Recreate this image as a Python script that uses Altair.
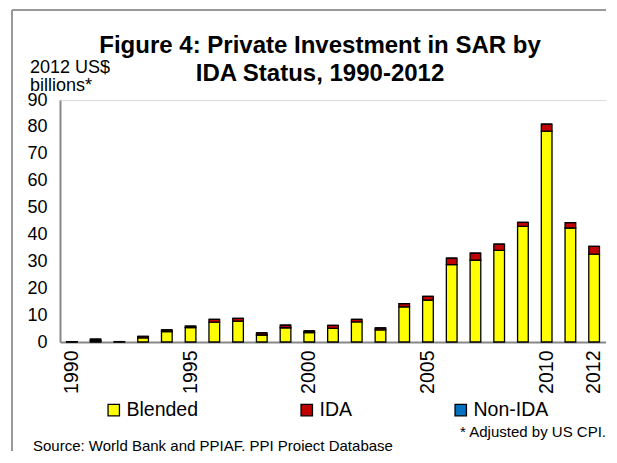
import altair as alt
import pandas as pd

years = list(range(1990, 2013))
blended = [0.15, 0.5, 0.15, 1.5, 3.9, 5.4, 7.4, 7.8, 2.6, 5.3, 3.5, 5.1, 7.5, 4.5,
           13.1, 15.6, 28.8, 30.4, 34.1, 43.0, 78.4, 42.4, 32.7]
ida = [0.0, 0.6, 0.0, 0.6, 0.6, 0.5, 1.0, 1.0, 0.8, 1.0, 0.6, 1.1, 0.9, 0.7,
       1.2, 1.4, 2.4, 2.6, 2.3, 1.5, 2.6, 2.0, 2.9]
non_ida = [0.0] * 23
series = ["Blended", "IDA", "Non-IDA"]
colors = ["#FFFF00", "#C00000", "#0070C0"]
shown_years = [1990, 1995, 2000, 2005, 2010, 2012]
y_ticks = [0, 10, 20, 30, 40, 50, 60, 70, 80, 90]

rows = []
for i, yr in enumerate(years):
    for k, (name, vals) in enumerate(zip(series, [blended, ida, non_ida])):
        rows.append({"year": str(yr), "series": name, "value": vals[i], "ord": k})
df = pd.DataFrame(rows)

FONT = "Liberation Sans"
W, H = 546, 242

label_expr = "indexof([" + ",".join(f"'{y}'" for y in shown_years) + "], datum.value) >= 0 ? datum.value : ''"

bars = alt.Chart(df).mark_bar(stroke="black", strokeWidth=1.3).encode(
    x=alt.X("year:O", title=None,
            scale=alt.Scale(paddingInner=0.55, paddingOuter=0.275),
            axis=alt.Axis(labelAngle=270, labelFontSize=19.5, labelFont=FONT, labelColor="black",
                          labelAlign="right", labelBaseline="middle", labelPadding=8,
                          ticks=False, domainColor="#888888", domainWidth=2,
                          labelExpr=label_expr)),
    y=alt.Y("value:Q", title=None, stack="zero",
            scale=alt.Scale(domain=[0, 90], nice=False),
            axis=alt.Axis(values=y_ticks, labelFontSize=18, labelFont=FONT, labelColor="black",
                          ticks=False, grid=False, domainColor="#888888", domainWidth=2,
                          labelPadding=13)),
    color=alt.Color("series:N", sort=series,
                    scale=alt.Scale(domain=series, range=colors),
                    legend=alt.Legend(title=None, orient="none", legendX=44, legendY=300,
                                      direction="horizontal", symbolType="square",
                                      symbolSize=130, symbolStrokeColor="black",
                                      symbolStrokeWidth=1.3, labelFontSize=19.5, labelFont=FONT,
                                      labelColor="black", columnPadding=98, labelOffset=3)),
    order=alt.Order("ord:Q"),
)

def txt(s, x, y, size=18, weight="normal", align="left"):
    return alt.Chart(pd.DataFrame({"t": [s]})).mark_text(
        font=FONT, fontSize=size, fontWeight=weight, align=align, baseline="middle", color="black"
    ).encode(x=alt.value(x), y=alt.value(y), text="t:N")

title1 = txt("Figure 4: Private Investment in SAR by", 260, -54, 24, "bold", "center")
title2 = txt("IDA Status, 1990-2012", 260, -26, 24, "bold", "center")
unit1 = txt("2012 US$", -30, -32)
unit2 = txt("billions*", -30, -14)
note = txt("* Adjusted by US CPI.", 546, 332, 15, "normal", "right")
source = txt("Source:  World Bank and PPIAF, PPI Project Database", -27, 346, 15)

# page frame: left edge and top edge of the document box
frame_df = pd.DataFrame({"x1": [-48, -48], "x2": [-48, 548], "y1": [-90, -90], "y2": [351, -90]})
frame = alt.Chart(frame_df).mark_rule(color="#999999", strokeWidth=2).encode(
    x=alt.X("x1:Q", scale=None), x2="x2:Q",
    y=alt.Y("y1:Q", scale=None), y2="y2:Q")

chart = alt.layer(frame, bars, title1, title2, unit1, unit2, note, source).properties(
    width=W, height=H,
    autosize=alt.AutoSizeParams(type="none"),
    padding={"left": 52, "top": 92, "right": 0, "bottom": 109},
).configure_view(stroke=None).configure(background="white")

chart.save("out.html", embed_options={"renderer": "svg", "actions": False})
